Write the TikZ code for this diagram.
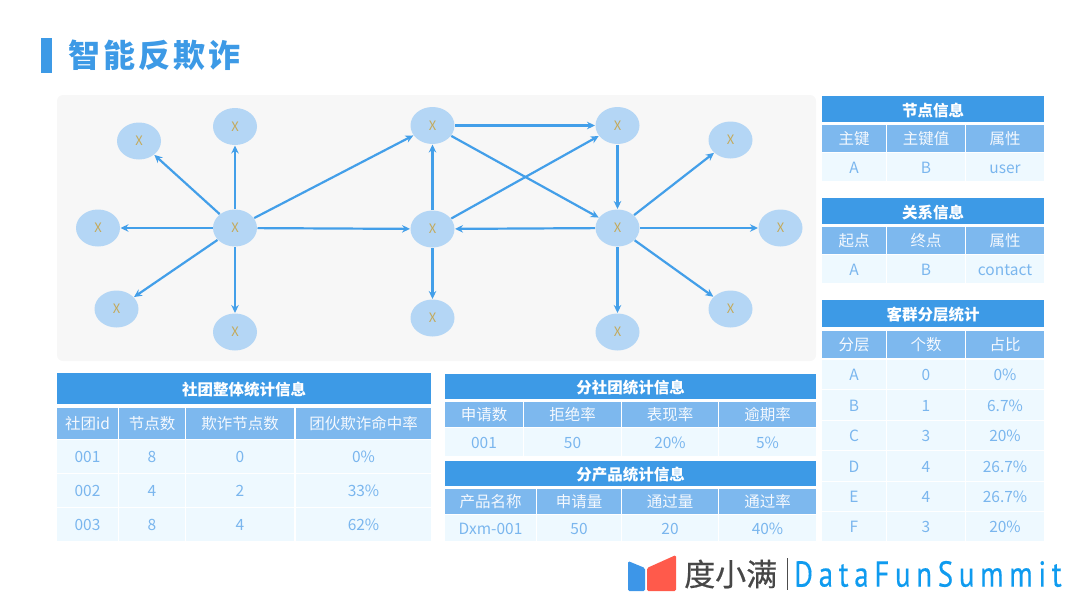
\documentclass[tikz,border=0pt]{standalone}
\usepackage{fontspec}
\setmainfont{Noto Sans CJK SC}
\newfontfamily\logofont[LetterSpace=16,FakeStretch=0.8,FakeBold=0.4]{PT Sans}
\newfontfamily\brandfont[FakeBold=0.5]{Noto Sans CJK SC}
\usetikzlibrary{arrows.meta,shapes.geometric}
\definecolor{bluemain}{HTML}{3D9AE6}
\definecolor{bluehead}{HTML}{7DB8EE}
\definecolor{bluerow}{HTML}{EEF9FF}
\definecolor{bluetext}{HTML}{7AB6EE}
\definecolor{nodefill}{HTML}{B4D6F5}
\definecolor{xtext}{HTML}{C4A95A}
\definecolor{edgeblue}{HTML}{439FE9}
\definecolor{panel}{HTML}{F7F7F7}
\newcount\cellno
\newcommand{\tcell}[6]{%
  \global\advance\cellno by 1
  \pgfmathsetmacro{\cw}{#4-#2}\pgfmathsetmacro{\ch}{#5-#3}%
  \pgfmathsetmacro{\cx}{(#4+#2)/2}\pgfmathsetmacro{\cy}{(#5+#3)/2}%
  \node[#1,minimum width=\cw pt,minimum height=\ch pt] (c\the\cellno) at (\cx,\cy) {#6};}
\newcommand{\hrow}[3]{%
  \foreach \xa/\xb/\tx in {#3}{\tcell{headcell}{\xa}{#1}{\xb}{#2}{\tx}}}
\newcommand{\rrow}[3]{%
  \foreach \xa/\xb/\tx in {#3}{\tcell{rowcell}{\xa}{#1}{\xb}{#2}{\tx}}}
\tikzset{
  cellbase/.style={rectangle,inner sep=0pt,outer sep=0pt,anchor=center,text depth=0pt},
  titlecell/.style={cellbase,text height=14pt,fill=bluemain,text=white,font=\fontsize{15.5}{17}\selectfont\bfseries},
  headcell/.style={cellbase,text height=12pt,fill=bluehead,text=white!92!bluehead,font=\fontsize{15.5}{17}\selectfont},
  rowcell/.style={cellbase,text height=12pt,fill=bluerow,text=bluetext,font=\fontsize{15.5}{17}\selectfont},
  gnode/.style={ellipse,fill=nodefill,minimum width=44pt,minimum height=37pt,inner sep=0pt,outer sep=0.5pt,text=xtext,font=\fontsize{13}{14}\selectfont},
  link/.style={draw=edgeblue,line width=2.2pt,-{Stealth[length=8pt,width=7.5pt]}},
}
\begin{document}
\begin{tikzpicture}[x=1pt,y=-1pt]
\useasboundingbox (0,0) rectangle (1080,608);
% title
\fill[bluemain] (41,38) rectangle (52,73);
\node[anchor=west,inner sep=0pt,text=bluemain,font=\fontsize{32}{34}\selectfont\bfseries] (title) at (68,55) {\addfontfeatures{LetterSpace=10}智能反欺诈};
% panel
\fill[panel,rounded corners=6pt] (57,95) rectangle (816,361);
% graph
\node[gnode] (a) at (235,228) {X};
\node[gnode] (a1) at (139,141) {X};
\node[gnode] (a2) at (235,126.5) {X};
\node[gnode] (a3) at (98,228) {X};
\node[gnode] (a4) at (116.5,309) {X};
\node[gnode] (a5) at (235,332) {X};
\node[gnode] (b) at (432.5,229) {X};
\node[gnode] (bt) at (432.5,125.5) {X};
\node[gnode] (bb) at (432.5,318) {X};
\node[gnode] (c) at (617.5,228) {X};
\node[gnode] (ct) at (617.5,125.5) {X};
\node[gnode] (c1) at (730.5,140) {X};
\node[gnode] (c2) at (780.5,228) {X};
\node[gnode] (c3) at (730.5,309) {X};
\node[gnode] (c4) at (617.5,332) {X};
\foreach \s/\t in {a/a1,a/a2,a/a3,a/a4,a/a5,a/bt,a/b,b/bt,b/ct,b/bb,bt/ct,bt/c,ct/c,c/b,c/c1,c/c2,c/c3,c/c4}
  \draw[link] (\s) -- (\t);
% node info
\tcell{titlecell}{822}{96}{1044}{122}{节点信息}
\hrow{125}{152}{822/886/主键,887/965/主键值,966/1044/属性}
\rrow{153}{181}{822/886/A,887/965/B,966/1044/user}
% relation info
\tcell{titlecell}{822}{198}{1044}{224}{关系信息}
\hrow{227}{254}{822/886/起点,887/965/终点,966/1044/属性}
\rrow{255}{283}{822/886/A,887/965/B,966/1044/contact}
% layered
\tcell{titlecell}{822}{300}{1044}{327}{客群分层统计}
\hrow{331}{358}{822/886/分层,887/965/个数,966/1044/占比}
\rrow{360}{389}{822/886/A,887/965/0,966/1044/0\%}
\rrow{390}{420}{822/886/B,887/965/1,966/1044/6.7\%}
\rrow{421}{450}{822/886/C,887/965/3,966/1044/20\%}
\rrow{451}{481}{822/886/D,887/965/4,966/1044/26.7\%}
\rrow{482}{511}{822/886/E,887/965/4,966/1044/26.7\%}
\rrow{512}{541}{822/886/F,887/965/3,966/1044/20\%}
% community
\tcell{titlecell}{57}{373}{431}{404}{社团整体统计信息}
\hrow{408}{439}{57/118/社团id,119/185/节点数,186/294/欺诈节点数,296/431/团伙欺诈命中率}
\rrow{440}{473}{57/118/001,119/185/8,186/294/0,296/431/0\%}
\rrow{474}{507}{57/118/002,119/185/4,186/294/2,296/431/33\%}
\rrow{508}{541}{57/118/003,119/185/8,186/294/4,296/431/62\%}
% sub community
\tcell{titlecell}{445}{374}{816}{399}{分社团统计信息}
\hrow{402}{427}{445/523/申请数,524/621/拒绝率,622/718/表现率,719/816/逾期率}
\rrow{428}{456}{445/523/001,524/621/50,622/718/20\%,719/816/5\%}
% product
\tcell{titlecell}{445}{461}{816}{486}{分产品统计信息}
\hrow{489}{514}{445/536/产品名称,537/621/申请量,622/718/通过量,719/816/通过率}
\rrow{515}{541}{445/536/Dxm-001,537/621/50,622/718/20,719/816/40\%}
% logo
\fill[fill={rgb,255:red,61;green,150;blue,232},rounded corners=1.5pt] (628,561) -- (645,568) -- (645,591) -- (628,591) -- cycle;
\fill[fill={rgb,255:red,255;green,90;blue,75},rounded corners=1.5pt] (647,568) -- (676,555) -- (676,591) -- (647,591) -- cycle;
\node[anchor=west,inner sep=0pt,text=black!72,font=\fontsize{31}{32}\brandfont] (brand) at (684,574) {度小满};
\draw[black!70,line width=1pt] (787,558) -- (787,590);
\node[anchor=west,inner sep=0pt,text={rgb,255:red,15;green,155;blue,239},font=\fontsize{36}{38}\logofont] (df) at (794,574) {DataFunSummit};
\end{tikzpicture}
\end{document}
